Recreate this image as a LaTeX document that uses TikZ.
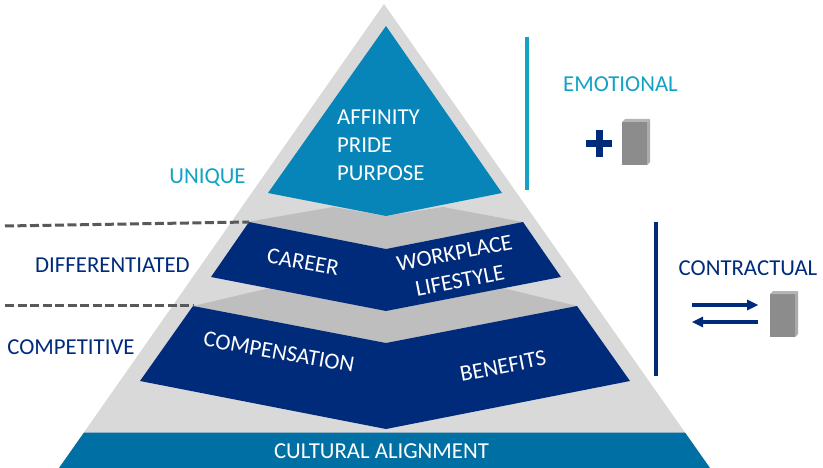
\documentclass[tikz,border=0pt]{standalone}
\usepackage{fontspec}
\setmainfont{Carlito}
\definecolor{navy}{HTML}{002B7A}
\definecolor{teal1}{HTML}{0785B9}
\definecolor{teal2}{HTML}{006FA3}
\definecolor{lab}{HTML}{12A3C4}
\definecolor{pale}{HTML}{D9D9D9}
\definecolor{shadegray}{HTML}{BEBEBE}
\definecolor{dashgray}{HTML}{595959}
\definecolor{boxf}{HTML}{8C8C8C}
\definecolor{boxs}{HTML}{ABABAB}
\definecolor{boxt}{HTML}{B5B5B5}
\tikzset{
  lbl/.style={font=\fontsize{22.8}{26}\selectfont, inner sep=0pt, anchor=center},
  navylbl/.style={lbl, text=navy},
  teallbl/.style={lbl, text=lab},
  wlbl/.style={lbl, text=white},
  dashline/.style={draw=dashgray, line width=3pt, dash pattern=on 9pt off 3.5pt},
  bar/.style={line width=3.8pt},
  arr/.style={draw=navy, line width=4.6pt},
  arrh/.style={fill=navy, draw=none},
}
\newcommand{\blockat}[2]{%
  \begin{scope}[shift={(#1,#2)}]
    \fill[boxf] (0,3) rectangle (25,46);
    \fill[boxs] (25,3) -- (28,0) -- (28,43) -- (25,46) -- cycle;
    \fill[boxt] (0,3) -- (3,0) -- (28,0) -- (25,3) -- cycle;
  \end{scope}}
\begin{document}
\begin{tikzpicture}[x=1pt,y=-1pt]
\useasboundingbox (0,0) rectangle (823,468);
% pyramid
\fill[pale] (384,4) -- (710,468) -- (59,468) -- cycle;
% shadows
\fill[shadegray] (247,222) -- (333,207) -- (386,216) -- (443,207) -- (523,222) -- (386,249) -- cycle;
\fill[shadegray] (193,306) -- (270,288) -- (386,311) -- (503,288) -- (577,306) -- (386,343) -- cycle;
% top
\fill[teal1] (386,26) -- (502,193) -- (386,216) -- (268,193) -- cycle;
% mid
\fill[navy] (249,222) -- (386,249) -- (523,222) -- (561,277) -- (386,311) -- (211,277) -- cycle;
% low
\fill[navy] (193,306) -- (386,343) -- (577,306) -- (630,381) -- (386,429) -- (140,381) -- cycle;
% base band
\fill[teal2] (84,432.5) -- (685,432.5) -- (710,468) -- (59,468) -- cycle;
% dashed leaders
\coordinate (d1a) at (5,226); \coordinate (d1b) at (249,222);
\coordinate (d2a) at (5,305); \coordinate (d2b) at (193,305);
\draw[dashline] (d1a) -- (d1b);
\draw[dashline] (d2a) -- (d2b);
% bars
\coordinate (b1a) at (527,37); \coordinate (b1b) at (527,190);
\coordinate (b2a) at (656,222); \coordinate (b2b) at (656,376);
\draw[bar,draw=lab] (b1a) -- (b1b);
\draw[bar,draw=navy] (b2a) -- (b2b);
% plus
\fill[navy] (586,140) rectangle (612,147);
\fill[navy] (595.5,130) rectangle (602.5,157);
\blockat{622}{119}
\blockat{770}{291}
% arrows
\coordinate (a1a) at (692,305); \coordinate (a1b) at (748,305);
\coordinate (a2a) at (758,322); \coordinate (a2b) at (702,322);
\draw[arr] (a1a) -- (a1b);
\fill[arrh] (747,299.5) -- (758,305) -- (747,310.5) -- cycle;
\draw[arr] (a2a) -- (a2b);
\fill[arrh] (703,316.5) -- (692,322) -- (703,327.5) -- cycle;
% labels
\node[teallbl] (unique) at (207.5,178) {UNIQUE};
\node[teallbl] (emotional) at (620.5,84) {EMOTIONAL};
\node[navylbl] (diff) at (112.5,265.5) {DIFFERENTIATED};
\node[navylbl] (comp) at (71,347.5) {COMPETITIVE};
\node[navylbl] (contr) at (748,268.5) {CONTRACTUAL};
\node[wlbl,anchor=west] (aff) at (337,117) {AFFINITY};
\node[wlbl,anchor=west] (pride) at (337,145) {PRIDE};
\node[wlbl,anchor=west] (purp) at (337,173) {PURPOSE};
\node[wlbl,rotate=-10] (career) at (303,262) {CAREER};
\node[wlbl,rotate=11] (work) at (454.5,253) {WORKPLACE};
\node[wlbl,rotate=11] (life) at (460,281) {LIFESTYLE};
\node[wlbl,rotate=-10] (compn) at (279,352) {COMPENSATION};
\node[wlbl,rotate=11] (ben) at (503,366) {BENEFITS};
\node[wlbl] (cult) at (381.5,451) {CULTURAL ALIGNMENT};
\end{tikzpicture}
\end{document}
